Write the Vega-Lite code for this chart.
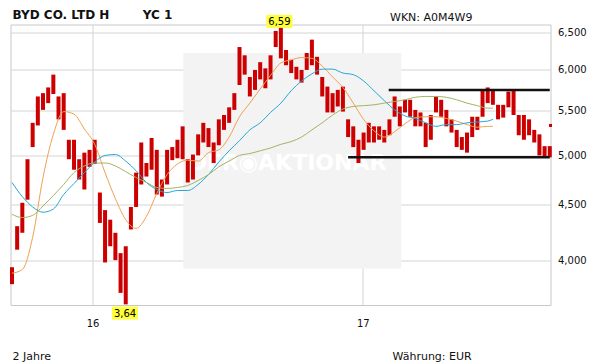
{
"$schema": "https://vega.github.io/schema/vega-lite/v6.json",
"width": 540,
"height": 280.5,
"autosize": {"type": "none"},
"padding": {"left": 10.5, "top": 24.5, "right": 60.5, "bottom": 59},
"background": "white",
"title": {"text": "BYD CO. LTD H\u00a0\u00a0\u00a0\u00a0\u00a0\u00a0\u00a0\u00a0YC 1", "anchor": "start", "frame": "group", "orient": "top", "offset": 4.5, "baseline": "alphabetic", "dx": 2, "dy": 24, "font": "DejaVu Sans", "fontSize": 12, "fontWeight": "bold", "color": "#111111"},
"config": {"view": {"stroke": "#c8c8c8", "strokeWidth": 1}, "font": "DejaVu Sans"},
"datasets": {
"wm": [{"x0": "2016-05-03", "x1": "2017-02-22", "ytop": 6.22, "ybot": 3.93, "tx": "2016-09-21", "ty": 4.92, "label": "DER\u25c9AKTIONÄR"}],
"px": [
{"d":"2015-09-14","lo":3.80,"hi":3.94},{"d":"2015-09-21","lo":4.09,"hi":4.30},{"d":"2015-09-28","lo":4.24,"hi":4.52},{"d":"2015-10-05","lo":4.55,"hi":4.96},
{"d":"2015-10-12","lo":5.09,"hi":5.36},{"d":"2015-10-19","lo":5.33,"hi":5.67},{"d":"2015-10-26","lo":5.51,"hi":5.71},{"d":"2015-11-02","lo":5.59,"hi":5.78},
{"d":"2015-11-09","lo":5.70,"hi":5.94},{"d":"2015-11-16","lo":5.40,"hi":5.67},{"d":"2015-11-23","lo":5.28,"hi":5.71},{"d":"2015-11-30","lo":4.96,"hi":5.17},
{"d":"2015-12-07","lo":4.85,"hi":5.17},{"d":"2015-12-14","lo":4.75,"hi":4.96},{"d":"2015-12-21","lo":4.65,"hi":5.03},{"d":"2015-12-28","lo":4.88,"hi":5.06},
{"d":"2016-01-04","lo":4.91,"hi":5.17},{"d":"2016-01-11","lo":4.33,"hi":4.62},{"d":"2016-01-18","lo":3.98,"hi":4.45},{"d":"2016-01-25","lo":4.12,"hi":4.36},
{"d":"2016-02-01","lo":4.00,"hi":4.24},{"d":"2016-02-08","lo":3.73,"hi":4.06},{"d":"2016-02-15","lo":3.64,"hi":4.12},{"d":"2016-02-22","lo":4.27,"hi":4.48},
{"d":"2016-02-29","lo":4.48,"hi":4.82},{"d":"2016-03-07","lo":4.70,"hi":5.14},{"d":"2016-03-14","lo":4.78,"hi":4.92},{"d":"2016-03-21","lo":4.85,"hi":5.19},
{"d":"2016-03-28","lo":4.60,"hi":5.06},{"d":"2016-04-04","lo":4.58,"hi":4.75},{"d":"2016-04-11","lo":4.70,"hi":5.06},{"d":"2016-04-18","lo":4.95,"hi":5.09},
{"d":"2016-04-25","lo":4.97,"hi":5.17},{"d":"2016-05-02","lo":4.96,"hi":5.32},{"d":"2016-05-09","lo":4.72,"hi":4.96},{"d":"2016-05-16","lo":4.75,"hi":5.01},
{"d":"2016-05-23","lo":5.00,"hi":5.23},{"d":"2016-05-30","lo":5.14,"hi":5.36},{"d":"2016-06-06","lo":5.09,"hi":5.30},{"d":"2016-06-13","lo":4.92,"hi":5.14},
{"d":"2016-06-20","lo":5.11,"hi":5.40},{"d":"2016-06-27","lo":5.28,"hi":5.45},{"d":"2016-07-04","lo":5.36,"hi":5.54},{"d":"2016-07-11","lo":5.51,"hi":5.71},
{"d":"2016-07-18","lo":5.81,"hi":6.30},{"d":"2016-07-25","lo":5.94,"hi":6.19},{"d":"2016-08-01","lo":5.67,"hi":5.91},{"d":"2016-08-08","lo":5.75,"hi":6.00},
{"d":"2016-08-15","lo":5.88,"hi":6.10},{"d":"2016-08-22","lo":5.77,"hi":6.02},{"d":"2016-08-29","lo":5.88,"hi":6.19},{"d":"2016-09-05","lo":6.30,"hi":6.52},
{"d":"2016-09-12","lo":6.15,"hi":6.59},{"d":"2016-09-19","lo":6.06,"hi":6.26},{"d":"2016-09-26","lo":5.96,"hi":6.13},{"d":"2016-10-03","lo":5.88,"hi":6.04},
{"d":"2016-10-10","lo":5.84,"hi":6.00},{"d":"2016-10-17","lo":6.00,"hi":6.22},{"d":"2016-10-24","lo":6.06,"hi":6.40},{"d":"2016-10-31","lo":5.94,"hi":6.17},
{"d":"2016-11-07","lo":5.67,"hi":5.91},{"d":"2016-11-14","lo":5.48,"hi":5.79},{"d":"2016-11-21","lo":5.48,"hi":5.71},{"d":"2016-11-28","lo":5.55,"hi":5.75},
{"d":"2016-12-05","lo":5.49,"hi":5.79},{"d":"2016-12-12","lo":5.20,"hi":5.40},{"d":"2016-12-19","lo":5.09,"hi":5.32},{"d":"2016-12-26","lo":4.92,"hi":5.17},
{"d":"2017-01-02","lo":5.06,"hi":5.25},{"d":"2017-01-09","lo":5.14,"hi":5.36},{"d":"2017-01-16","lo":5.14,"hi":5.32},{"d":"2017-01-23","lo":5.17,"hi":5.32},
{"d":"2017-01-30","lo":5.14,"hi":5.28},{"d":"2017-02-06","lo":5.22,"hi":5.40},{"d":"2017-02-13","lo":5.43,"hi":5.67},{"d":"2017-02-20","lo":5.32,"hi":5.55},
{"d":"2017-02-27","lo":5.48,"hi":5.63},{"d":"2017-03-06","lo":5.43,"hi":5.63},{"d":"2017-03-13","lo":5.32,"hi":5.51},{"d":"2017-03-20","lo":5.32,"hi":5.48},
{"d":"2017-03-27","lo":5.09,"hi":5.36},{"d":"2017-04-03","lo":5.17,"hi":5.45},{"d":"2017-04-10","lo":5.48,"hi":5.67},{"d":"2017-04-17","lo":5.43,"hi":5.63},
{"d":"2017-04-24","lo":5.32,"hi":5.51},{"d":"2017-05-01","lo":5.25,"hi":5.40},{"d":"2017-05-08","lo":5.09,"hi":5.28},{"d":"2017-05-15","lo":5.06,"hi":5.20},
{"d":"2017-05-22","lo":5.03,"hi":5.25},{"d":"2017-05-29","lo":5.20,"hi":5.43},{"d":"2017-06-05","lo":5.28,"hi":5.43},{"d":"2017-06-12","lo":5.43,"hi":5.75},
{"d":"2017-06-19","lo":5.59,"hi":5.78},{"d":"2017-06-26","lo":5.57,"hi":5.75},{"d":"2017-07-03","lo":5.40,"hi":5.57},{"d":"2017-07-10","lo":5.42,"hi":5.57},
{"d":"2017-07-17","lo":5.54,"hi":5.73},{"d":"2017-07-24","lo":5.45,"hi":5.75},{"d":"2017-07-31","lo":5.22,"hi":5.45},{"d":"2017-08-07","lo":5.17,"hi":5.45},
{"d":"2017-08-14","lo":5.22,"hi":5.40},{"d":"2017-08-21","lo":5.14,"hi":5.28},{"d":"2017-08-28","lo":5.00,"hi":5.23},{"d":"2017-09-04","lo":4.99,"hi":5.10},
{"d":"2017-09-11","lo":4.98,"hi":5.10}
],
"ma": [
{"d":"2015-09-14","s":"a","v":3.89},{"d":"2015-09-28","s":"a","v":3.92},{"d":"2015-10-12","s":"a","v":4.20},{"d":"2015-10-26","s":"a","v":4.77},
{"d":"2015-11-09","s":"a","v":5.23},{"d":"2015-11-23","s":"a","v":5.49},{"d":"2015-12-07","s":"a","v":5.46},{"d":"2015-12-21","s":"a","v":5.29},
{"d":"2016-01-04","s":"a","v":5.12},{"d":"2016-01-18","s":"a","v":4.82},{"d":"2016-02-01","s":"a","v":4.56},{"d":"2016-02-15","s":"a","v":4.36},
{"d":"2016-02-29","s":"a","v":4.28},{"d":"2016-03-14","s":"a","v":4.39},{"d":"2016-03-28","s":"a","v":4.61},{"d":"2016-04-11","s":"a","v":4.80},
{"d":"2016-04-25","s":"a","v":4.91},{"d":"2016-05-09","s":"a","v":4.95},{"d":"2016-05-23","s":"a","v":4.94},{"d":"2016-06-06","s":"a","v":5.03},
{"d":"2016-06-20","s":"a","v":5.06},{"d":"2016-07-04","s":"a","v":5.20},{"d":"2016-07-18","s":"a","v":5.43},{"d":"2016-08-01","s":"a","v":5.59},
{"d":"2016-08-15","s":"a","v":5.76},{"d":"2016-08-29","s":"a","v":5.93},{"d":"2016-09-12","s":"a","v":6.09},{"d":"2016-09-26","s":"a","v":6.13},
{"d":"2016-10-10","s":"a","v":6.16},{"d":"2016-10-24","s":"a","v":6.15},{"d":"2016-11-07","s":"a","v":6.05},{"d":"2016-11-21","s":"a","v":5.91},
{"d":"2016-12-05","s":"a","v":5.78},{"d":"2016-12-19","s":"a","v":5.59},{"d":"2017-01-02","s":"a","v":5.40},{"d":"2017-01-16","s":"a","v":5.27},
{"d":"2017-01-30","s":"a","v":5.20},{"d":"2017-02-13","s":"a","v":5.26},{"d":"2017-02-27","s":"a","v":5.35},{"d":"2017-03-13","s":"a","v":5.42},
{"d":"2017-03-27","s":"a","v":5.43},{"d":"2017-04-10","s":"a","v":5.43},{"d":"2017-04-24","s":"a","v":5.41},{"d":"2017-05-08","s":"a","v":5.38},
{"d":"2017-05-22","s":"a","v":5.34},{"d":"2017-06-05","s":"a","v":5.31},{"d":"2017-06-19","s":"a","v":5.32},{"d":"2017-06-26","s":"a","v":5.32},
{"d":"2015-09-14","s":"b","v":4.72},{"d":"2015-09-28","s":"b","v":4.58},{"d":"2015-10-12","s":"b","v":4.48},{"d":"2015-10-26","s":"b","v":4.43},
{"d":"2015-11-09","s":"b","v":4.46},{"d":"2015-11-23","s":"b","v":4.60},{"d":"2015-12-07","s":"b","v":4.71},{"d":"2015-12-21","s":"b","v":4.82},
{"d":"2016-01-04","s":"b","v":4.93},{"d":"2016-01-18","s":"b","v":5.00},{"d":"2016-02-01","s":"b","v":5.01},{"d":"2016-02-15","s":"b","v":4.94},
{"d":"2016-02-29","s":"b","v":4.84},{"d":"2016-03-14","s":"b","v":4.72},{"d":"2016-03-28","s":"b","v":4.65},{"d":"2016-04-11","s":"b","v":4.62},
{"d":"2016-04-25","s":"b","v":4.64},{"d":"2016-05-09","s":"b","v":4.64},{"d":"2016-05-23","s":"b","v":4.70},{"d":"2016-06-06","s":"b","v":4.80},
{"d":"2016-06-20","s":"b","v":4.93},{"d":"2016-07-04","s":"b","v":5.05},{"d":"2016-07-18","s":"b","v":5.16},{"d":"2016-08-01","s":"b","v":5.28},
{"d":"2016-08-15","s":"b","v":5.36},{"d":"2016-08-29","s":"b","v":5.48},{"d":"2016-09-12","s":"b","v":5.59},{"d":"2016-09-26","s":"b","v":5.74},
{"d":"2016-10-10","s":"b","v":5.86},{"d":"2016-10-24","s":"b","v":5.95},{"d":"2016-11-07","s":"b","v":6.01},{"d":"2016-11-21","s":"b","v":6.01},
{"d":"2016-12-05","s":"b","v":5.96},{"d":"2016-12-19","s":"b","v":5.94},{"d":"2017-01-02","s":"b","v":5.86},{"d":"2017-01-16","s":"b","v":5.74},
{"d":"2017-01-30","s":"b","v":5.62},{"d":"2017-02-13","s":"b","v":5.51},{"d":"2017-02-27","s":"b","v":5.44},{"d":"2017-03-13","s":"b","v":5.41},
{"d":"2017-03-27","s":"b","v":5.36},{"d":"2017-04-10","s":"b","v":5.32},{"d":"2017-04-24","s":"b","v":5.34},{"d":"2017-05-08","s":"b","v":5.34},
{"d":"2017-05-22","s":"b","v":5.36},{"d":"2017-06-05","s":"b","v":5.37},{"d":"2017-06-19","s":"b","v":5.38},{"d":"2017-06-26","s":"b","v":5.40},
{"d":"2015-09-14","s":"c","v":4.41},{"d":"2015-09-28","s":"c","v":4.38},{"d":"2015-10-12","s":"c","v":4.40},{"d":"2015-10-26","s":"c","v":4.49},
{"d":"2015-11-09","s":"c","v":4.59},{"d":"2015-11-23","s":"c","v":4.70},{"d":"2015-12-07","s":"c","v":4.82},{"d":"2015-12-21","s":"c","v":4.89},
{"d":"2016-01-04","s":"c","v":4.92},{"d":"2016-01-18","s":"c","v":4.92},{"d":"2016-02-01","s":"c","v":4.89},{"d":"2016-02-15","s":"c","v":4.83},
{"d":"2016-02-29","s":"c","v":4.77},{"d":"2016-03-14","s":"c","v":4.72},{"d":"2016-03-28","s":"c","v":4.67},{"d":"2016-04-11","s":"c","v":4.66},
{"d":"2016-04-25","s":"c","v":4.67},{"d":"2016-05-09","s":"c","v":4.69},{"d":"2016-05-23","s":"c","v":4.74},{"d":"2016-06-06","s":"c","v":4.80},
{"d":"2016-06-20","s":"c","v":4.88},{"d":"2016-07-04","s":"c","v":4.94},{"d":"2016-07-18","s":"c","v":5.00},{"d":"2016-08-01","s":"c","v":5.02},
{"d":"2016-08-15","s":"c","v":5.05},{"d":"2016-08-29","s":"c","v":5.08},{"d":"2016-09-12","s":"c","v":5.12},{"d":"2016-09-26","s":"c","v":5.15},
{"d":"2016-10-10","s":"c","v":5.20},{"d":"2016-10-24","s":"c","v":5.28},{"d":"2016-11-07","s":"c","v":5.36},{"d":"2016-11-21","s":"c","v":5.45},
{"d":"2016-12-05","s":"c","v":5.52},{"d":"2016-12-19","s":"c","v":5.55},{"d":"2017-01-02","s":"c","v":5.56},{"d":"2017-01-16","s":"c","v":5.57},
{"d":"2017-01-30","s":"c","v":5.59},{"d":"2017-02-13","s":"c","v":5.61},{"d":"2017-02-27","s":"c","v":5.63},{"d":"2017-03-13","s":"c","v":5.66},
{"d":"2017-03-27","s":"c","v":5.67},{"d":"2017-04-10","s":"c","v":5.67},{"d":"2017-04-24","s":"c","v":5.66},{"d":"2017-05-08","s":"c","v":5.63},
{"d":"2017-05-22","s":"c","v":5.59},{"d":"2017-06-05","s":"c","v":5.56},{"d":"2017-06-19","s":"c","v":5.53},{"d":"2017-06-26","s":"c","v":5.53}
],
"last": [{"d": "2017-09-12", "v": 5.33}],
"ext": [{"d": "2016-09-10", "v": 6.59, "label": "6,59", "kind": "high"}, {"d": "2016-02-14", "v": 3.64, "label": "3,64", "kind": "low"}],
"chan": [{"d0": "2017-02-05", "d1": "2017-09-11", "lvl": 5.75}, {"d0": "2016-12-12", "d1": "2017-09-11", "lvl": 4.98}]
},
"layer": [
{
"layer": [
{"data": {"name": "wm"}, "mark": {"type": "rect", "color": "#f3f3f3"},
 "encoding": {
  "x": {"field": "x0", "type": "temporal", "title": "2 Jahre",
   "scale": {"type": "utc", "domain": [{"year": 2015, "month": 9, "date": 12, "utc": true}, {"year": 2017, "month": 9, "date": 12, "utc": true}]},
   "axis": {"orient": "bottom", "values": [{"year": 2016, "month": 1, "date": 1, "utc": true}, {"year": 2017, "month": 1, "date": 1, "utc": true}], "format": "%y", "grid": true, "gridColor": "#d4d4d4", "ticks": false, "domain": false, "labelPadding": 13, "labelFont": "DejaVu Sans", "labelFontSize": 10, "labelColor": "#111111", "labelAlign": "center", "labelFlush": false, "titleX": 1.5, "titleY": 54, "titleAlign": "left", "titleAnchor": "start", "titleBaseline": "alphabetic", "titleFont": "DejaVu Sans", "titleFontSize": 11, "titleFontWeight": "normal", "titleColor": "#111111"}},
  "x2": {"field": "x1"},
  "y": {"field": "ytop", "type": "quantitative", "title": "WKN: A0M4W9",
   "scale": {"type": "log", "domain": [3.635, 6.61], "nice": false, "zero": false},
   "axis": {"orient": "right", "values": [4, 4.5, 5, 5.5, 6, 6.5], "labelExpr": "replace(format(datum.value, '.3f'), '.', ',')", "grid": true, "gridColor": "#d4d4d4", "ticks": false, "domain": false, "labelPadding": 7, "labelFont": "DejaVu Sans", "labelFontSize": 10, "labelColor": "#111111", "labelBaseline": "middle", "labelFlush": false, "titleAngle": 0, "titleX": -161, "titleY": -4, "titleAlign": "left", "titleBaseline": "alphabetic", "titleFont": "DejaVu Sans", "titleFontSize": 11, "titleFontWeight": "normal", "titleColor": "#111111"}},
  "y2": {"field": "ybot"}
 }},
{"data": {"name": "wm"}, "mark": {"type": "text", "color": "#ffffff", "font": "DejaVu Sans", "fontSize": 22, "fontWeight": "bold", "align": "center", "baseline": "middle"},
 "encoding": {"x": {"field": "tx", "type": "temporal", "title": "2 Jahre"}, "y": {"field": "ty", "type": "quantitative", "title": "WKN: A0M4W9"}, "text": {"field": "label"}}},
{"data": {"name": "px"}, "mark": {"type": "rule", "color": "#cc0000", "strokeWidth": 4},
 "encoding": {"x": {"field": "d", "type": "temporal", "title": "2 Jahre"}, "y": {"field": "lo", "type": "quantitative", "title": "WKN: A0M4W9"}, "y2": {"field": "hi"}}},
{"data": {"name": "ma"}, "mark": {"type": "line", "strokeWidth": 1, "interpolate": "monotone"},
 "encoding": {"x": {"field": "d", "type": "temporal", "title": "2 Jahre"}, "y": {"field": "v", "type": "quantitative", "title": "WKN: A0M4W9"},
  "color": {"field": "s", "type": "nominal", "scale": {"domain": ["a", "b", "c"], "range": ["#f0a050", "#22a8d4", "#a2b460"]}, "legend": null}}},
{"data": {"name": "last"}, "mark": {"type": "point", "shape": "square", "filled": true, "size": 9, "color": "#cc0000", "opacity": 1},
 "encoding": {"x": {"field": "d", "type": "temporal", "title": "2 Jahre"}, "y": {"field": "v", "type": "quantitative", "title": "WKN: A0M4W9"}}},
{"data": {"name": "ext"}, "transform": [{"filter": "datum.kind == 'high'"}],
 "mark": {"type": "point", "shape": "M-1,-0.5L1,-0.5L1,0.5L-1,0.5Z", "filled": true, "size": 676, "color": "#ffff3c", "opacity": 1, "yOffset": -4.5},
 "encoding": {"x": {"field": "d", "type": "temporal", "title": "2 Jahre"}, "y": {"field": "v", "type": "quantitative", "title": "WKN: A0M4W9"}}},
{"data": {"name": "ext"}, "transform": [{"filter": "datum.kind == 'high'"}],
 "mark": {"type": "text", "font": "DejaVu Sans", "fontSize": 10, "color": "#000000", "align": "center", "baseline": "middle", "yOffset": -4},
 "encoding": {"x": {"field": "d", "type": "temporal", "title": "2 Jahre"}, "y": {"field": "v", "type": "quantitative", "title": "WKN: A0M4W9"}, "text": {"field": "label"}}},
{"data": {"name": "ext"}, "transform": [{"filter": "datum.kind == 'low'"}],
 "mark": {"type": "point", "shape": "M-1,-0.5L1,-0.5L1,0.5L-1,0.5Z", "filled": true, "size": 676, "color": "#ffff3c", "opacity": 1, "yOffset": 8.7},
 "encoding": {"x": {"field": "d", "type": "temporal", "title": "2 Jahre"}, "y": {"field": "v", "type": "quantitative", "title": "WKN: A0M4W9"}}},
{"data": {"name": "ext"}, "transform": [{"filter": "datum.kind == 'low'"}],
 "mark": {"type": "text", "font": "DejaVu Sans", "fontSize": 10, "color": "#000000", "align": "center", "baseline": "middle", "yOffset": 9.2},
 "encoding": {"x": {"field": "d", "type": "temporal", "title": "2 Jahre"}, "y": {"field": "v", "type": "quantitative", "title": "WKN: A0M4W9"}, "text": {"field": "label"}}}
]
},
{"data": {"name": "chan"}, "mark": {"type": "rule", "color": "#111111", "strokeWidth": 2.5},
 "encoding": {
  "x": {"field": "d0", "type": "temporal", "title": "2 Jahre"},
  "x2": {"field": "d1"},
  "y": {"field": "lvl", "type": "quantitative", "title": "Währung: EUR",
   "scale": {"type": "log", "domain": [3.635, 6.61], "nice": false, "zero": false},
   "axis": {"orient": "left", "labels": false, "ticks": false, "domain": false, "grid": false, "titleAngle": 0, "titleX": 381.5, "titleY": 334.5, "titleAlign": "left", "titleBaseline": "alphabetic", "titleFont": "DejaVu Sans", "titleFontSize": 11, "titleFontWeight": "normal", "titleColor": "#111111"}}
 }}
],
"resolve": {"scale": {"y": "independent"}}
}
